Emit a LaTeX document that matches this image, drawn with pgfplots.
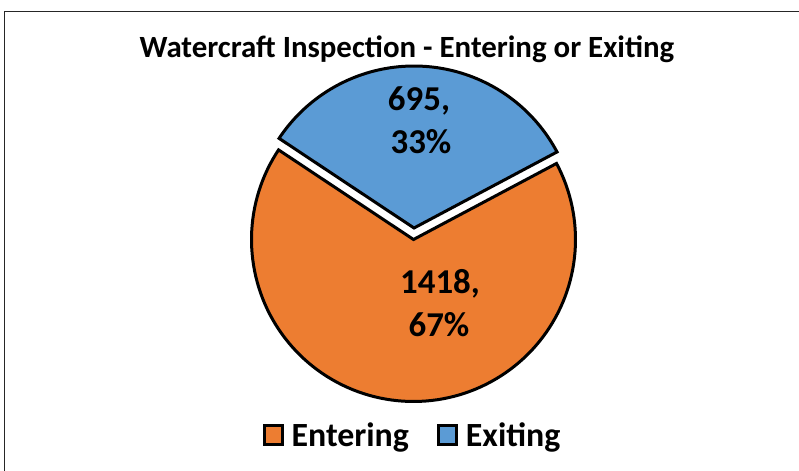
\documentclass[border=0pt]{standalone}
\usepackage{fontspec}
\setmainfont{Carlito}
\usepackage{pgfplots}
\pgfplotsset{compat=1.18}
\definecolor{pieorange}{HTML}{ED7D31}
\definecolor{pieblue}{HTML}{5B9BD5}
\def\vEnter{1418}
\def\vExit{695}
\begin{document}
\begin{tikzpicture}
\pgfmathsetmacro{\tot}{\vEnter+\vExit}
\pgfmathsetmacro{\frac}{\vExit/\tot}
\pgfmathsetmacro{\aS}{28}
\pgfmathsetmacro{\aM}{28+360*\frac}
\pgfmathsetmacro{\aF}{388}
\begin{axis}[
  x=1bp, y=1bp, xmin=0, xmax=799, ymin=0, ymax=471,
  hide axis, clip=false,
  legend style={at={(axis cs:412.5,36)}, anchor=center, draw=none, fill=none,
    font=\bfseries\fontsize{34}{40}\selectfont, legend columns=-1,
    /tikz/every odd column/.append style={column sep=6bp},
    /tikz/every even column/.append style={column sep=26bp}},
  legend image code/.code={\draw[#1] (0bp,-9.5bp) rectangle (18bp,9.5bp);},
]
\addplot[fill=pieorange, draw=black, line width=3bp, line join=miter, domain=\aM:\aF, samples=120, variable=\t]
  ({413.5+162*cos(\t)}, {231.5+162*sin(\t)}) -- (axis cs:413.5,231.5) -- cycle;
\addlegendentry{Entering}
\addplot[fill=pieblue, draw=black, line width=3bp, line join=miter, domain=\aS:\aM, samples=80, variable=\t]
  ({414+162*cos(\t)}, {243+162*sin(\t)}) -- (axis cs:414,243) -- cycle;
\addlegendentry{Exiting}
\node[anchor=base, font=\bfseries\fontsize{31}{36}\selectfont] at (axis cs:407,413.5) {Watercraft Inspection - Entering or Exiting};
\node[anchor=base, font=\bfseries\fontsize{35}{40}\selectfont] at (axis cs:419,360.3) {695,};
\node[anchor=base, font=\bfseries\fontsize{35}{40}\selectfont] at (axis cs:421,317.7) {33\%};
\node[anchor=base, font=\bfseries\fontsize{35}{40}\selectfont] at (axis cs:440,177.7) {1418,};
\node[anchor=base, font=\bfseries\fontsize{35}{40}\selectfont] at (axis cs:439,134.3) {67\%};
\draw[black!85, line width=1bp] (axis cs:4.5,0) -- (axis cs:4.5,459.5) -- (axis cs:799,459.5);
\end{axis}
\pgfresetboundingbox
\useasboundingbox (0,0) rectangle (799bp,471bp);
\end{tikzpicture}
\end{document}
